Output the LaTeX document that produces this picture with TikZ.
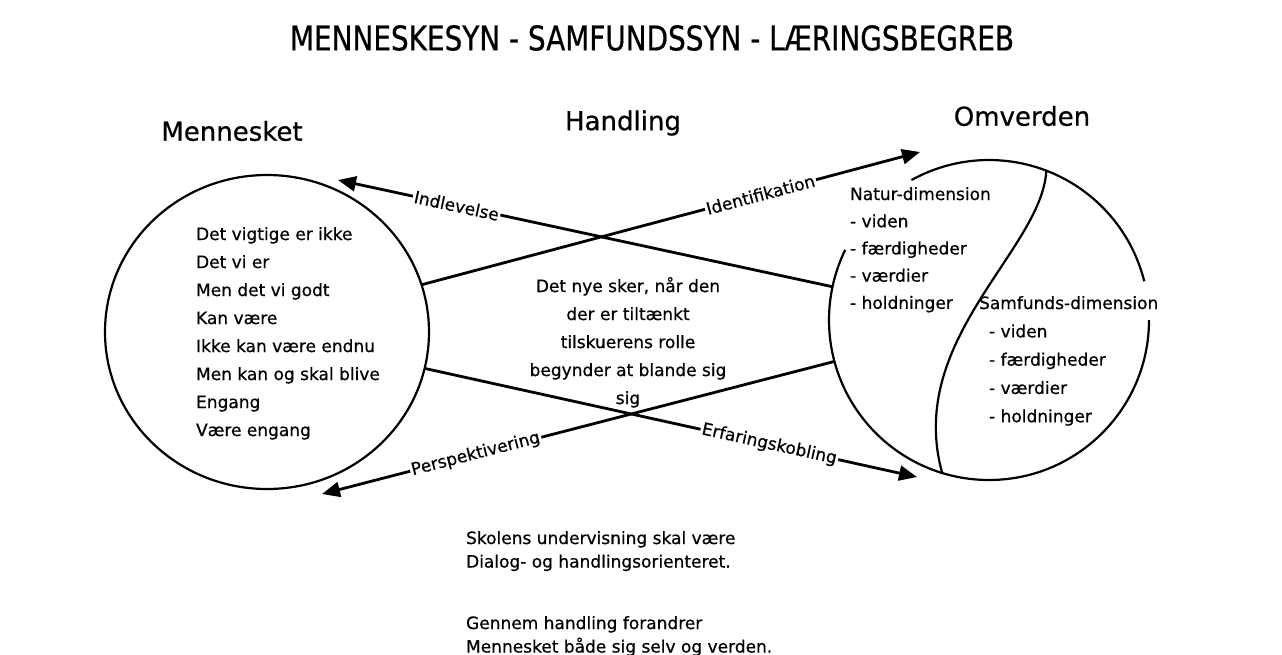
\documentclass[tikz,border=0pt]{standalone}
\usepackage{fontspec}
\setmainfont{DejaVu Sans}[FakeBold=0.6]
\newfontfamily\titelfont[FakeStretch=0.82,FakeBold=0.6]{DejaVu Sans}
\usetikzlibrary{arrows.meta,shapes.geometric}
\newcommand{\pil}[4]{\draw[->,line width=2.8pt] (#1) -- node[lbl,pos=#4] {#3} (#2);}

\begin{document}
\begin{tikzpicture}[x=1pt,y=-1pt,line width=2.2pt,
  >={Triangle[length=18pt,width=15pt]},
  lbl/.style={sloped,fill=white,inner sep=1.5pt,font=\fontsize{17}{20}\selectfont},
  txt/.style={align=left,inner sep=0pt,font=\fontsize{17}{28}\selectfont},
  head/.style={font=\fontsize{26}{30}\selectfont}]
  \clip (0,0) rectangle (1282,654);
  \fill[white] (0,0) rectangle (1282,654);
  \node[font=\titelfont\fontsize{34}{40}\selectfont] (titel) at (652,38) {MENNESKESYN - SAMFUNDSSYN - LÆRINGSBEGREB};
  \node[head] (hMens) at (232,131) {Mennesket};
  \node[head] (hHand) at (623,123) {Handling};
  \node[head] (hOmv) at (1022,116) {Omverden};
  % de to cirkler
  \node[draw,ellipse,minimum width=324pt,minimum height=314pt,outer sep=0pt] (mens) at (267,332) {};
  \node[circle,minimum size=320pt,inner sep=0pt,outer sep=0pt] (omv) at (989,320) {};
  \draw ([shift={(omv.center)}]241:160) arc[start angle=241,end angle=346,radius=160];
  \draw ([shift={(omv.center)}]0:160) arc[start angle=0,end angle=206,radius=160];
  \draw (omv.69.5) .. controls (1042,250) and (905,340) .. (omv.253.3);
  \coordinate (tipId) at (920,152);
  \coordinate (tipInd) at (338,180);
  \coordinate (tipErf) at (917,477);
  \coordinate (tipPer) at (322,494);
  \pil{mens.17.5}{tipId}{Identifikation}{0.68}
  \pil{omv.168.6}{tipInd}{Indlevelse}{0.76}
  \pil{mens.-13}{tipErf}{Erfaringskobling}{0.70}
  \pil{omv.195}{tipPer}{Perspektivering}{0.70}
  % tekster
  \node[txt,anchor=north west] (mensTxt) at (195,226) {Det vigtige er ikke\\Det vi er\\Men det vi godt\\Kan være\\Ikke kan være endnu\\Men kan og skal blive\\Engang\\Være engang};
  \node[txt,align=center,anchor=north] (midt) at (628,276) {Det nye sker, når den\\der er tiltænkt\\tilskuerens rolle\\begynder at blande sig\\sig};
  \node[txt,anchor=north west,font=\fontsize{17}{27.2}\selectfont] (natur) at (849,186) {Natur-dimension\\- viden\\- færdigheder\\- værdier\\- holdninger};
  \node[txt,anchor=north west,font=\fontsize{17}{28.3}\selectfont] (samf) at (978,295) {Samfunds-dimension\\\hspace*{10pt}- viden\\\hspace*{10pt}- færdigheder\\\hspace*{10pt}- værdier\\\hspace*{10pt}- holdninger};
  \node[txt,anchor=north west,font=\fontsize{17}{23.5}\selectfont] (skole) at (465,530) {Skolens undervisning skal være\\Dialog- og handlingsorienteret.\\[38pt]Gennem handling forandrer\\Mennesket både sig selv og verden.};
\end{tikzpicture}
\end{document}
